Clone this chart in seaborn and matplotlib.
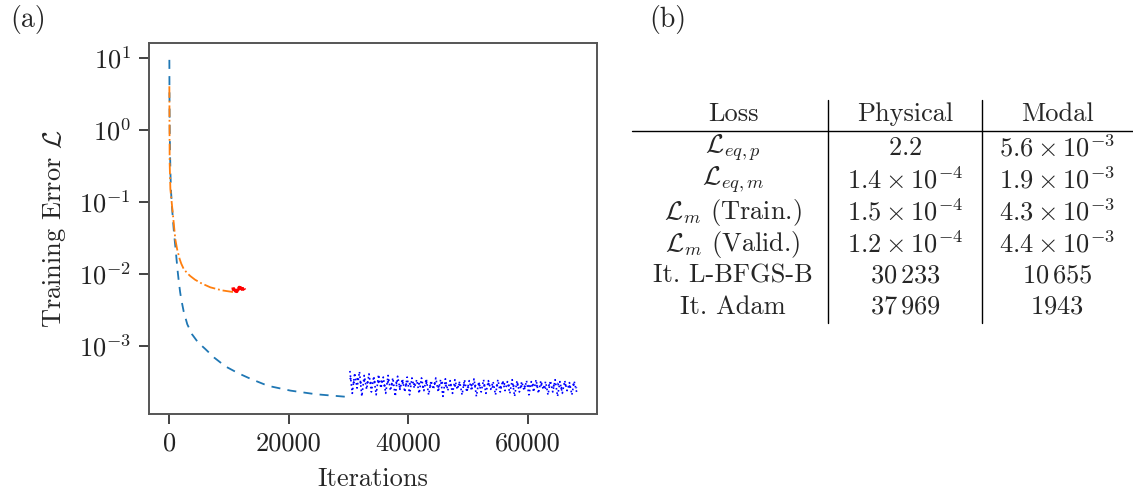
import numpy as np
import pandas as pd
import matplotlib
matplotlib.use("Agg")
import matplotlib.pyplot as plt
from matplotlib.ticker import NullLocator, FixedLocator
import seaborn as sns

# ---------------------------------------------------------------- data
# Physical network, L-BFGS-B stage
phys_lbfgs_it = [0, 20, 60, 120, 200, 300, 450, 600, 800, 1000, 1200, 1400,
                 1600, 1800, 2000, 2400, 3000, 3800, 4800, 6000, 7500, 9400,
                 11500, 13600, 16500, 20300, 24500, 28700, 30233]
phys_lbfgs_loss = [9.3, 3.0, 1.0, 0.45, 0.22, 0.13, 0.083, 0.056, 0.035,
                   0.024, 0.016, 0.0107, 0.0076, 0.0056, 0.0044, 0.0030,
                   0.0020, 0.00145, 0.00112, 0.00091, 0.00069, 0.00052,
                   0.00042, 0.00035, 0.00028, 0.00024, 0.000214, 0.0002,
                   0.000195]

# Modal network, L-BFGS-B stage
modal_lbfgs_it = [0, 20, 50, 170, 560, 1000, 1300, 1730, 2000, 2400, 3000,
                  3520, 4300, 5360, 6870, 8830, 10655]
modal_lbfgs_loss = [4.0, 1.5, 0.35, 0.15, 0.071, 0.030, 0.022, 0.016,
                    0.0138, 0.0117, 0.0102, 0.0093, 0.0083, 0.0074, 0.0065,
                    0.0059, 0.0056]

# Physical network, Adam stage (oscillating loss, units of 1e-4)
phys_adam_wide = [4.5, 2.2, 4.2, 2.6, 4.4, 2.0, 3.9, 2.5, 4.1, 2.3, 3.8, 2.1,
                  4.0, 2.6, 3.7, 2.2, 3.9, 2.4, 3.6, 2.0, 3.8, 2.5, 3.5, 2.3,
                  3.7, 2.1, 3.6, 2.6, 3.4, 2.2, 3.6, 2.4, 3.5, 2.1, 3.3, 2.5,
                  3.6, 2.3, 3.4, 2.0, 3.5, 2.4, 3.3, 2.2, 3.4, 2.5, 3.2, 2.1,
                  3.4, 2.3, 3.3, 2.4, 3.5, 2.0, 3.2, 2.3, 3.4, 2.2, 3.3, 2.5,
                  3.2, 2.1, 3.4, 2.3, 3.3, 2.4, 3.2, 2.2, 3.4, 2.0, 3.3, 2.3,
                  3.2, 2.4, 3.3, 2.1, 3.2, 2.3, 3.4, 2.2, 3.3, 2.5, 3.2, 2.1,
                  3.3, 2.3, 3.4, 2.0, 3.2, 2.2, 3.3, 2.4, 3.1, 2.1, 3.2, 2.3]
phys_adam_core = [3.6, 3.1, 3.5, 3.0, 3.4, 2.9, 3.3, 3.0, 3.4, 2.8, 3.2, 2.9,
                  3.1, 2.7, 3.2, 2.8, 3.1, 2.9, 3.0, 2.7, 3.1, 2.8, 3.0, 2.7,
                  3.1, 2.8, 2.9, 2.7, 3.0, 2.8, 2.9, 2.6, 3.0, 2.7, 2.9, 2.8,
                  3.0, 2.7, 2.9, 2.6, 3.0, 2.8, 2.9, 2.7, 3.0, 2.6, 2.9, 2.7,
                  3.0, 2.7, 2.9, 2.6, 2.9, 2.8, 3.0, 2.6, 2.9, 2.7, 3.0, 2.6]

# Modal network, Adam stage (units of 1e-3)
modal_adam_loss = [6.5, 5.7, 6.4, 5.8, 6.5, 5.7, 6.4, 5.8, 6.5, 5.7,
                   6.4, 5.8, 6.5, 5.7, 6.4, 6.0]

# Table contents
table_header = ["Loss", "Physical", "Modal"]
table_rows = [
    [r"$\mathcal{L}_{eq,p}$", r"$2.2$", r"$5.6\times10^{-3}$"],
    [r"$\mathcal{L}_{eq,m}$", r"$1.4\times10^{-4}$", r"$1.9\times10^{-3}$"],
    [r"$\mathcal{L}_{m}$ (Train.)", r"$1.5\times10^{-4}$", r"$4.3\times10^{-3}$"],
    [r"$\mathcal{L}_{m}$ (Valid.)", r"$1.2\times10^{-4}$", r"$4.4\times10^{-3}$"],
    ["It. L-BFGS-B", r"$30\,233$", r"$10\,655$"],
    ["It. Adam", r"$37\,969$", r"$1943$"],
]
it_lbfgs_phys, it_adam_phys = 30233, 37969
it_lbfgs_modal, it_adam_modal = 10655, 1943

# ---------------------------------------------------------------- style
sns.set_theme(style="ticks")
plt.rcParams.update({
    "font.family": "serif",
    "font.serif": ["cmr10", "DejaVu Serif"],
    "mathtext.fontset": "cm",
    "axes.formatter.use_mathtext": True,
    "axes.unicode_minus": False,
    "font.size": 19,
})

fig = plt.figure(figsize=(11.33, 4.97), dpi=100)
ax = fig.add_axes([149 / 1133, 83 / 497, 448 / 1133, 371 / 497])

phys_adam_it_w = np.linspace(it_lbfgs_phys, it_lbfgs_phys + it_adam_phys, len(phys_adam_wide))
phys_adam_it_c = np.linspace(it_lbfgs_phys, it_lbfgs_phys + it_adam_phys, len(phys_adam_core))
modal_adam_it = np.linspace(it_lbfgs_modal, it_lbfgs_modal + it_adam_modal, len(modal_adam_loss))

sns.lineplot(x=phys_lbfgs_it, y=phys_lbfgs_loss, ax=ax, color="#1f77b4",
             linestyle=(0, (5, 4)), lw=1.3, sort=False)
sns.lineplot(x=modal_lbfgs_it, y=modal_lbfgs_loss, ax=ax, color="#ff7f0e",
             linestyle="-.", lw=1.3, sort=False)
sns.lineplot(x=phys_adam_it_w, y=np.array(phys_adam_wide) * 1e-4, ax=ax,
             color="blue", linestyle=":", lw=1.2, sort=False)
sns.lineplot(x=phys_adam_it_c, y=np.array(phys_adam_core) * 1e-4, ax=ax,
             color="blue", linestyle=":", lw=1.4, sort=False)
sns.lineplot(x=modal_adam_it, y=np.array(modal_adam_loss) * 1e-3, ax=ax,
             color="red", linestyle=":", lw=2.4, sort=False)

ax.set_yscale("log")
ax.yaxis.set_major_locator(FixedLocator([1e-3, 1e-2, 1e-1, 1e0, 1e1]))
ax.yaxis.set_minor_locator(NullLocator())
ax.set_xticks([0, 20000, 40000, 60000])
ax.set_xticklabels(["0", "20000", "40000", "60000"])
ax.set_xlabel("Iterations", fontsize=19, labelpad=8)
ax.set_ylabel(r"Training Error $\mathcal{L}$", fontsize=19, labelpad=8)
ax.tick_params(length=7, width=1.2, pad=6, colors="#222", labelsize=19)
for s in ax.spines.values():
    s.set_color("#555")
    s.set_linewidth(1.4)

# ---------------------------------------------------------------- table
tab = fig.add_axes([0, 0, 1, 1])
tab.set_xlim(0, 1133)
tab.set_ylim(497, 0)
tab.axis("off")
col_x = [733, 905, 1057]
row_y = [148, 180, 212, 244, 276, 307]
for cx, txt in zip(col_x, table_header):
    tab.text(cx, 114, txt, ha="center", va="center", fontsize=19)
for ry, row in zip(row_y, table_rows):
    for cx, txt in zip(col_x, row):
        tab.text(cx, ry, txt, ha="center", va="center", fontsize=19)
tab.plot([632, 1133], [131, 131], color="black", lw=1.0)
for vx in (828, 982):
    tab.plot([vx, vx], [100, 323], color="black", lw=1.0)

tab.text(28, 20, "(a)", ha="center", va="center", fontsize=20)
tab.text(668, 20, "(b)", ha="center", va="center", fontsize=20)

fig.savefig("out.png", dpi=100)
